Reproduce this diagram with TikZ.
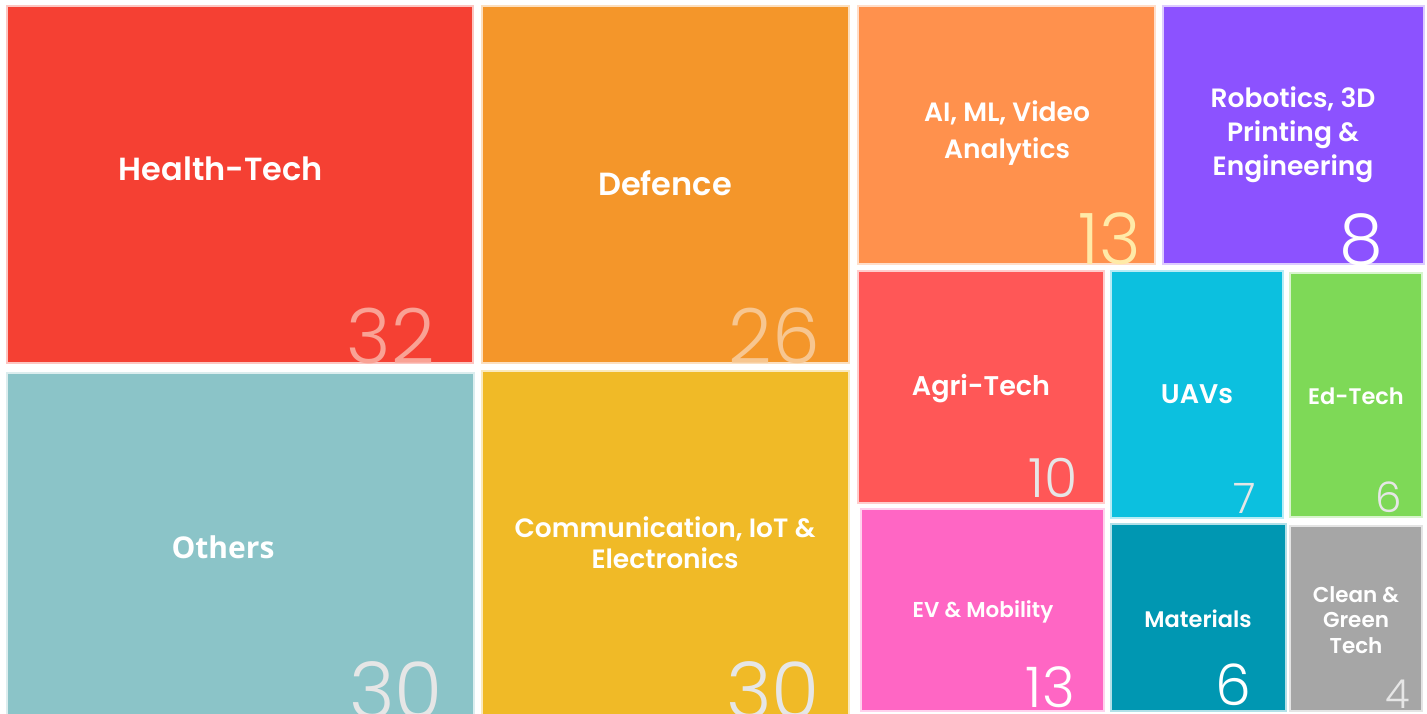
\documentclass[tikz,border=0pt]{standalone}
\usepackage{fontspec}
\setmainfont{Poppins}
\IfFontExistsTF{Poppins SemiBold}{\newfontfamily\lblfont{Poppins SemiBold}}{%
  \IfFontExistsTF{Poppins-SemiBold}{\newfontfamily\lblfont{Poppins-SemiBold}}{\newfontfamily\lblfont{Poppins}[FakeBold=1.4]}}
\IfFontExistsTF{Poppins Light}{\newfontfamily\numfont{Poppins Light}}{\newfontfamily\numfont{Poppins}}
\newfontfamily\othfont{Open Sans}
\newcommand{\fsz}[2]{\fontsize{#1}{#2}\selectfont}

\definecolor{healthred}{HTML}{F54033}
\definecolor{defenceorange}{HTML}{F4962A}
\definecolor{otherteal}{HTML}{8BC4C8}
\definecolor{commyellow}{HTML}{F0BA27}
\definecolor{aiorange}{HTML}{FF914D}
\definecolor{robopurple}{HTML}{8C52FF}
\definecolor{agrired}{HTML}{FF5757}
\definecolor{evpink}{HTML}{FF66C4}
\definecolor{uavcyan}{HTML}{0CC0DF}
\definecolor{edgreen}{HTML}{7ED957}
\definecolor{matblue}{HTML}{0097B2}
\definecolor{cleangrey}{HTML}{A6A6A6}
\definecolor{numgrey}{HTML}{E6E6E6}
\definecolor{numsalmon}{HTML}{F9A295}
\definecolor{numpeach}{HTML}{F7C690}
\definecolor{numcream}{HTML}{FFEAA8}

\tikzset{
  tile/.style={fill=#1, draw=#1!30, line width=1.2pt},
  lbl/.style={text=white, align=center, inner sep=0pt},
  count/.style={anchor=base east, inner sep=0pt},
}

\begin{document}
\begin{tikzpicture}[x=1pt,y=-1pt]
    \fill[white] (0,0) rectangle (1427,714);
    \useasboundingbox (0,0) rectangle (1427,714);
    \clip (0,0) rectangle (1427,714);

    % left half
    \draw[tile=healthred] (7,6) rectangle (473,363);
    \draw[tile=defenceorange] (482,6) rectangle (849,363);
    \draw[tile=otherteal] (7,373) rectangle (474,716);
    \draw[tile=commyellow] (482,371) rectangle (849,716);

    % right half
    \draw[tile=aiorange] (858,6) rectangle (1155,264);
    \draw[tile=robopurple] (1163,6) rectangle (1424,264);
    \draw[tile=agrired] (858,271) rectangle (1104,503);
    \draw[tile=evpink] (861,509) rectangle (1104,711);
    \draw[tile=uavcyan] (1111,271) rectangle (1283,518);
    \draw[tile=edgreen] (1290,273) rectangle (1422,517);
    \draw[tile=matblue] (1111,524) rectangle (1286,711);
    \draw[tile=cleangrey] (1290,526) rectangle (1422,711);

    % labels
    \node[lbl, font=\lblfont\fsz{32}{38}] (health) at (221,169) {Health-Tech};
    \node[lbl, font=\lblfont\fsz{32}{38}] (defence) at (665,183) {Defence};
    \node[lbl, font=\othfont\bfseries\fsz{30}{36}] (others) at (223,547) {Others};
    \node[lbl, font=\lblfont\fsz{26.5}{31}] (comm) at (665,543) {Communication, IoT \&\\Electronics};
    \node[lbl, font=\lblfont\fsz{26.5}{37}] (ai) at (1007,133) {AI, ML, Video\\Analytics};
    \node[lbl, font=\lblfont\fsz{26.5}{34}] (robo) at (1293,135) {Robotics, 3D\\Printing \&\\Engineering};
    \node[lbl, font=\lblfont\fsz{27}{32}] (agri) at (981,389) {Agri-Tech};
    \node[lbl, font=\lblfont\fsz{27}{32}] (uav) at (1197,394) {UAVs};
    \node[lbl, font=\lblfont\fsz{22.5}{28}] (edtech) at (1356,396) {Ed-Tech};
    \node[lbl, font=\lblfont\fsz{21.5}{27}] (ev) at (983,612) {EV \& Mobility};
    \node[lbl, font=\lblfont\fsz{22.5}{28}] (mat) at (1198,619) {Materials};
    \node[lbl, font=\lblfont\fsz{21.5}{25.5}] (clean) at (1356,620) {Clean \&\\Green\\Tech};

    % counts
    \node[count, text=numsalmon, font=\numfont\fsz{76}{80}] (health-n) at (435,363) {32};
    \node[count, text=numpeach, font=\numfont\fsz{76}{80}] (defence-n) at (820,363) {26};
    \node[count, text=numgrey, font=\numfont\fsz{78}{80}] (others-n) at (443,718) {30};
    \node[count, text=numgrey, font=\numfont\fsz{78}{80}] (comm-n) at (820,718) {30};
    \node[count, text=numcream, font=\numfont\fsz{71}{75}] (ai-n) at (1141,264) {13};
    \node[count, text=white, font=\numfont\fsz{70}{75}] (robo-n) at (1383,264) {8};
    \node[count, text=numgrey, font=\numfont\fsz{54}{58}] (agri-n) at (1078,497) {10};
    \node[count, text=numgrey, font=\numfont\fsz{42}{46}] (uav-n) at (1256,513) {7};
    \node[count, text=numgrey, font=\numfont\fsz{42}{46}] (edtech-n) at (1402,512) {6};
    \node[count, text=white, font=\numfont\fsz{56}{60}] (ev-n) at (1075,707) {13};
    \node[count, text=white, font=\numfont\fsz{57}{60}] (mat-n) at (1252,705) {6};
    \node[count, text=numgrey, font=\numfont\fsz{40}{44}] (clean-n) at (1410,708) {4};
\end{tikzpicture}
\end{document}
